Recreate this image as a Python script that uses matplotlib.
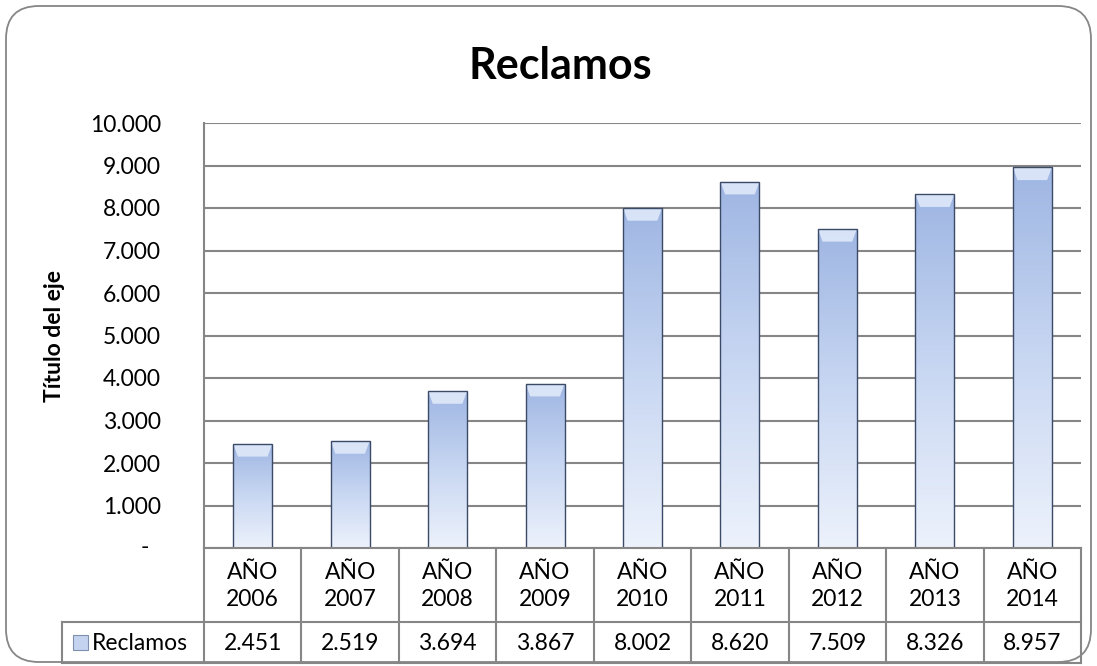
import numpy as np
import matplotlib
matplotlib.use("Agg")
import matplotlib.pyplot as plt
from matplotlib.patches import FancyBboxPatch, Rectangle, Polygon
from matplotlib.colors import LinearSegmentedColormap
from matplotlib.ticker import FuncFormatter

plt.rcParams['font.family'] = ['Lato', 'DejaVu Sans']

title = "Reclamos"
series_name = "Reclamos"
ylabel = "Título del eje"
categories = ["AÑO\n2006", "AÑO\n2007", "AÑO\n2008", "AÑO\n2009", "AÑO\n2010",
              "AÑO\n2011", "AÑO\n2012", "AÑO\n2013", "AÑO\n2014"]
values = [2451, 2519, 3694, 3867, 8002, 8620, 7509, 8326, 8957]
yticks = [0, 1000, 2000, 3000, 4000, 5000, 6000, 7000, 8000, 9000, 10000]

W, H = 1097, 666
fig = plt.figure(figsize=(W / 100, H / 100), dpi=100)
FS = 16.5

def fx(px):
    return px / W

def fy(py):
    return 1 - py / H

# outer rounded frame
frame = FancyBboxPatch((fx(6), fy(662)), fx(1091) - fx(6), fy(6) - fy(662),
                       boxstyle="round,pad=0,rounding_size=0.03",
                       transform=fig.transFigure, fill=False,
                       edgecolor="#868686", linewidth=1.3, mutation_aspect=W / H)
fig.patches.append(frame)

left, right, top, bottom = 204, 1081, 123, 548
ax = fig.add_axes([fx(left), fy(bottom), fx(right) - fx(left), fy(top) - fy(bottom)])
n = len(values)
ax.set_xlim(-0.5, n - 0.5)
ax.set_ylim(0, 10000)
ax.set_yticks(yticks)
ax.yaxis.set_major_formatter(FuncFormatter(
    lambda v, p: "" if v == 0 else f"{int(v):,}".replace(",", ".")))
ax.tick_params(axis='y', length=0, pad=31, labelsize=FS, colors="black")
ax.tick_params(axis='x', length=0, labelbottom=False)
ax.set_xticks([])
for s in ["top", "right", "bottom"]:
    ax.spines[s].set_visible(False)
ax.spines["left"].set_color("#868686")
ax.spines["left"].set_linewidth(1.5)
ax.grid(axis='y', color="#868686", linewidth=1.5)
ax.set_axisbelow(True)

# Excel accounting format: zero shown as a dash placed further left
ax.text(-0.067, yticks[0], "-", transform=ax.get_yaxis_transform(),
        ha="center", va="center", fontsize=FS)

ax.set_ylabel(ylabel, fontsize=FS, fontweight="bold", labelpad=18)
fig.text(fx(560), fy(66), title, ha="center", va="center", fontsize=31, fontweight="bold")

# gradient bars
cmap = LinearSegmentedColormap.from_list("bar", ["#edf2fc", "#c8d7f2", "#9fb6e3"])
grad = np.linspace(0, 1, 256).reshape(-1, 1)
bw = 0.4
bars = ax.bar(range(n), values, width=bw, color="none", edgecolor="#3b4a66", linewidth=1.0, zorder=3)
for i, (b, v) in enumerate(zip(bars, values)):
    x0 = b.get_x()
    im = ax.imshow(grad, cmap=cmap, origin="lower", aspect="auto",
                   extent=(x0, x0 + bw, 0, v), zorder=2.5)
    im.set_clip_path(b)
    bev = 0.12 * bw
    bh = 300
    poly = Polygon([(x0, v), (x0 + bw, v), (x0 + bw - bev, v - bh), (x0 + bev, v - bh)],
                   closed=True, facecolor="#e3ecfb", edgecolor="none", alpha=0.85, zorder=2.8)
    ax.add_patch(poly)
ax.set_xlim(-0.5, n - 0.5)
ax.set_ylim(0, 10000)

# data table
lc = "#868686"
row1_bot, row2_bot, tab_left = 622, 663, 62
lines = []
lines.append(([fx(left), fx(left)], [fy(bottom), fy(row2_bot)]))
lines.append(([fx(tab_left), fx(right)], [fy(row1_bot), fy(row1_bot)]))
lines.append(([fx(tab_left), fx(right)], [fy(row2_bot), fy(row2_bot)]))
lines.append(([fx(tab_left), fx(tab_left)], [fy(row1_bot), fy(row2_bot)]))
lines.append(([fx(left), fx(right)], [fy(bottom), fy(bottom)]))
cw = (right - left) / n
for i in range(1, n + 1):
    x = left + i * cw
    lines.append(([fx(x), fx(x)], [fy(bottom), fy(row2_bot)]))
for xs, ys in lines:
    fig.add_artist(plt.Line2D(xs, ys, transform=fig.transFigure, color=lc, linewidth=1.5))

for i, (c, v) in enumerate(zip(categories, values)):
    xc = left + (i + 0.5) * cw
    fig.text(fx(xc), fy((bottom + row1_bot) / 2 + 1), c, ha="center", va="center",
             fontsize=FS, linespacing=1.4)
    fig.text(fx(xc), fy((row1_bot + row2_bot) / 2 + 1), f"{v:,}".replace(",", "."),
             ha="center", va="center", fontsize=FS)

# legend key + series name
key = Rectangle((fx(73), fy(650)), fx(88) - fx(73), fy(635) - fy(650), transform=fig.transFigure,
                facecolor="#c3d3f0", edgecolor="#7f8fae", linewidth=0.8)
fig.patches.append(key)
fig.text(fx(92), fy(643), series_name, ha="left", va="center", fontsize=FS)

fig.savefig("out.png", dpi=100)
